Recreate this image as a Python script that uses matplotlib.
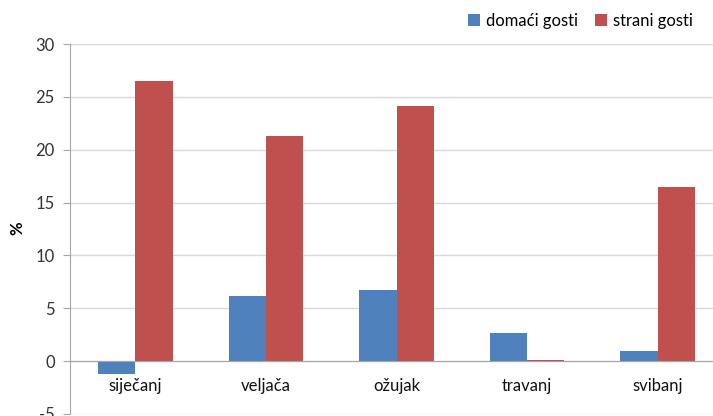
import matplotlib
matplotlib.use("Agg")
import matplotlib.pyplot as plt
import numpy as np

categories = ["siječanj", "veljača", "ožujak", "travanj", "svibanj"]
domaci = [-1.2, 6.2, 6.7, 2.7, 1.0]
strani = [26.5, 21.3, 24.1, 0.1, 16.5]
yticks = [-5, 0, 5, 10, 15, 20, 25, 30]

plt.rcParams['font.family'] = ['Lato', 'DejaVu Sans']

fig = plt.figure(figsize=(7.13, 4.16), dpi=100)
W, H = 713, 416
left, right, top, bottom = 70, 723, 44, 414
ax = fig.add_axes([left / W, 1 - bottom / H, (right - left) / W, (bottom - top) / H])

x = np.arange(len(categories))
w = 0.285
ax.bar(x - w / 2, domaci, w, color="#4F81BD", label="domaći gosti", zorder=3)
ax.bar(x + w / 2, strani, w, color="#C0504D", label="strani gosti", zorder=3)

ax.set_xlim(-0.5, len(categories) - 0.5)
ax.set_ylim(-5, 30)
ax.set_yticks(yticks)
ax.set_yticklabels([str(t) for t in yticks], fontsize=12, color="#333333")
ax.yaxis.grid(True, color="#D9D9D9", linewidth=1, zorder=0)
ax.set_axisbelow(True)

for s in ["top", "right"]:
    ax.spines[s].set_visible(False)
ax.spines["left"].set_color("#A6A6A6")
ax.spines["bottom"].set_position(("data", 0))
ax.spines["bottom"].set_color("#A6A6A6")
ax.spines["bottom"].set_zorder(4)
ax.tick_params(axis="y", length=5, color="#A6A6A6", pad=6)
ax.set_xticks(x)
ax.set_xticklabels(categories, fontsize=12, color="#111111")
ax.tick_params(axis="x", length=0, pad=12)

fig.text(17 / W, 1 - 228 / H, "%", rotation=90, fontsize=12, fontweight="bold",
         ha="center", va="center")

leg = fig.legend(loc="center right", bbox_to_anchor=(700 / W, 1 - 21 / H), ncol=2,
                 frameon=False, fontsize=12, handlelength=0.7, handleheight=0.7,
                 handletextpad=0.4, columnspacing=1.0, borderaxespad=0)

fig.savefig("out.png", dpi=100)
